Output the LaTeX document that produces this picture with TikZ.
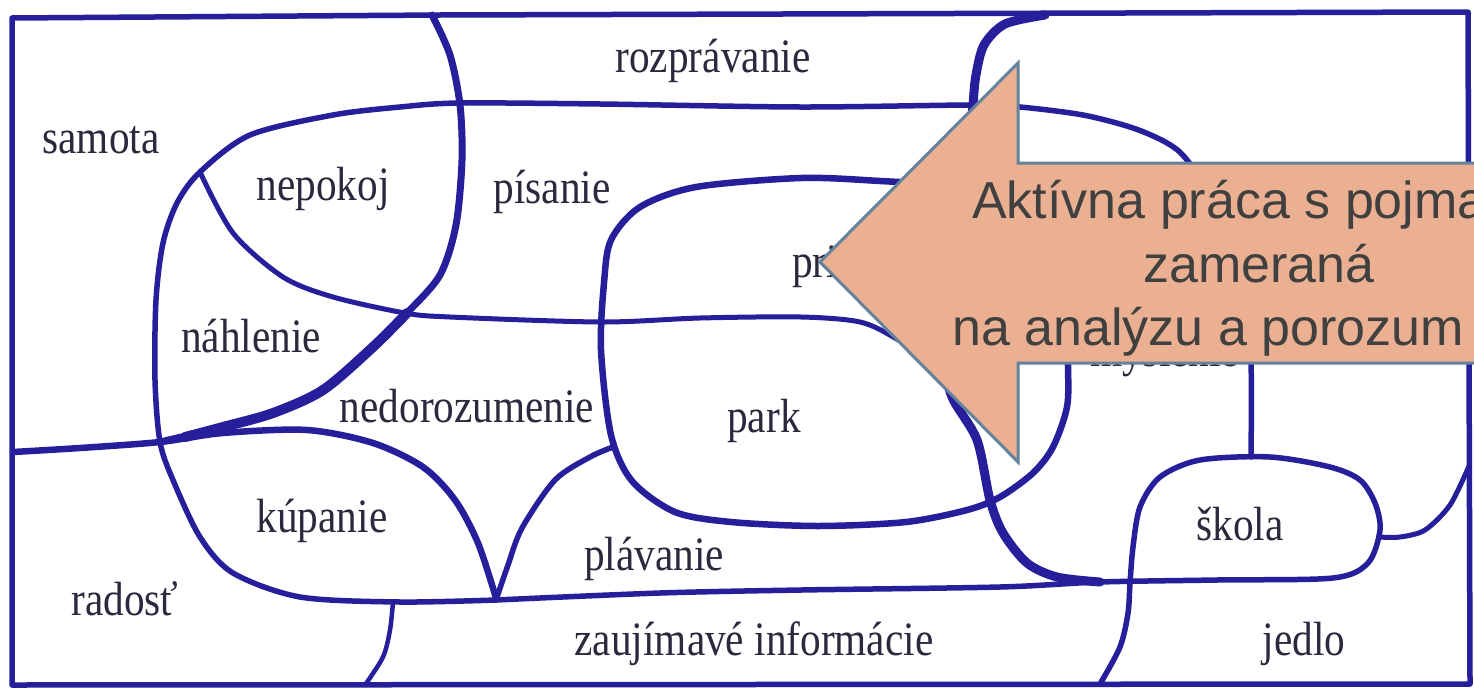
\documentclass[tikz,border=0pt]{standalone}
\usepackage{fontspec}
\newfontfamily\labfont[FakeStretch=0.86]{Liberation Serif}
\newfontfamily\callfont{Liberation Sans}
\definecolor{inkblue}{RGB}{38,30,155}
\definecolor{labtext}{RGB}{45,40,62}
\definecolor{callfill}{RGB}{234,176,145}
\definecolor{callline}{RGB}{100,130,155}
\definecolor{calltext}{RGB}{64,64,64}
\tikzset{
  inkline/.style={draw=inkblue, line width=5.5pt, line cap=round, line join=round},
  lab/.style={font=\labfont\fontsize{48}{50}\selectfont, text=labtext, inner sep=0pt},
  callshape/.style={fill=callfill, draw=callline, line width=3pt, line join=miter},
  calltxt/.style={font=\callfont\fontsize{52}{62}\selectfont, text=calltext, inner sep=0pt, anchor=base west}
}
\begin{document}
\begin{tikzpicture}[x=1pt,y=-1pt]
\useasboundingbox (0,0) rectangle (1474,688);
\fill[white] (0,0) rectangle (1474,688);
\clip (0,0) rectangle (1474,688);

% frame
\draw[inkline] (12,18) -- (440,15) -- (1468,12) -- (1470,684) -- (12,685) -- cycle;

% curve A (from top, bulging right, sweeping down-left)
\draw[inkline, line width=7pt] plot[smooth] coordinates {(432,15) (450,55) (460,105) (462,160) (456,225) (440,275) (407,313) (373,347) (323,390) (273,413) (223,427) (160,442)};
\draw[inkline, line width=10pt] plot[smooth] coordinates {(407,313) (373,347) (323,390) (273,413) (223,427) (185,437)};

% H1 and kupanie top/right
\draw[inkline, line width=6.5pt] plot[smooth] coordinates {(13,452) (80,448) (160,442) (223,433) (307,430) (373,443) (423,467) (455,500) (478,543) (496,598)};

% curve B (left oval) + H0 continuing right and down
\draw[inkline] plot[smooth] coordinates {(496,600) (400,602) (300,597) (233,573) (200,537) (173,480) (160,442) (155,380) (156,300) (163,243) (177,203) (200,172) (250,135) (333,115) (400,107) (460,103) (600,104) (800,107) (973,105) (1020,107) (1083,115) (1133,128) (1167,143) (1187,160) (1225,215) (1245,290) (1251,363) (1251,457)};

% nepokoj / nahlenie divider + H2
\draw[inkline, line width=5pt] plot[smooth] coordinates {(200,172) (233,233) (283,277) (333,297) (405,313) (450,317) (601,322) (700,318) (801,317) (860,322) (895,338) (935,365) (955,392)};

% curve C (thick, right)
\draw[inkline, line width=9pt] plot[smooth] coordinates {(1045,15) (1005,24) (984,45) (976,75) (973,105) (966,200) (952,300) (945,360) (952,397) (977,440) (990,500) (1003,533) (1027,563) (1057,577) (1100,582)};

% park oval
\draw[inkline, line width=6.5pt] plot[smooth cycle] coordinates {(601,350) (604,283) (611,240) (640,207) (696,187) (801,178) (880,181) (950,186) (1020,200) (1055,250) (1066,320) (1068,367) (1067,407) (1053,447) (1033,473) (1000,497) (967,510) (906,522) (818,526) (731,522) (675,512) (632,481) (611,435)};

% V curve
\draw[inkline] plot[smooth] coordinates {(496,600) (508,565) (522,528) (555,480) (590,457) (613,447)};

% H3 + skola oval + divider to bottom
\draw[inkline] plot[smooth] coordinates {(496,600) (660,593) (801,590) (1000,587) (1100,582) (1217,580) (1333,578) (1368,563) (1380,530) (1375,503) (1360,480) (1330,467) (1270,457) (1200,460) (1160,477) (1140,507) (1133,547) (1130,583) (1128,613) (1120,647) (1100,684)};

% skola to right edge
\draw[inkline, line width=5pt] plot[smooth] coordinates {(1379,537) (1400,537) (1425,530) (1450,505) (1469,466)};

% radost / zaujimave divider
\draw[inkline, line width=4.5pt] plot[smooth] coordinates {(393,602) (390,630) (383,657) (365,685)};

% labels
\node[lab, anchor=base] (samota) at (101,153) {samota};
\node[lab, anchor=base] (nepokoj) at (323,200) {nepokoj};
\node[lab, anchor=base] (rozpravanie) at (713,72) {rozprávanie};
\node[lab, anchor=base] (pisanie) at (552,203) {písanie};
\node[lab, anchor=base west] (pri) at (792,277) {pri};
\node[lab, anchor=base] (nahlenie) at (251,352) {náhlenie};
\node[lab, anchor=base] (nedorozumenie) at (467,422) {nedorozumenie};
\node[lab, anchor=base] (park) at (764,432) {park};
\node[lab, anchor=base] (kupanie) at (322,532) {kúpanie};
\node[lab, anchor=base] (plavanie) at (654,570) {plávanie};
\node[lab, anchor=base] (radost) at (125,615) {radosť};
\node[lab, anchor=base] (zaujimave) at (754,655) {zaujímavé informácie};
\node[lab, anchor=base] (skola) at (1240,540) {škola};
\node[lab, anchor=base] (jedlo) at (1304,655) {jedlo};
\node[lab, anchor=base west] (myslenie) at (1090,366) {myslenie};

% callout arrow
\draw[callshape] (820,262) -- (1018,63) -- (1018,163) -- (1520,163) -- (1520,363) -- (1018,363) -- (1018,462) -- cycle;
\node[calltxt] (call1) at (972,218) {Aktívna práca s pojma};
\node[calltxt] (call2) at (1143,282) {zameraná};
\node[calltxt] (call3) at (952,345) {na analýzu a porozum};
\end{tikzpicture}
\end{document}
